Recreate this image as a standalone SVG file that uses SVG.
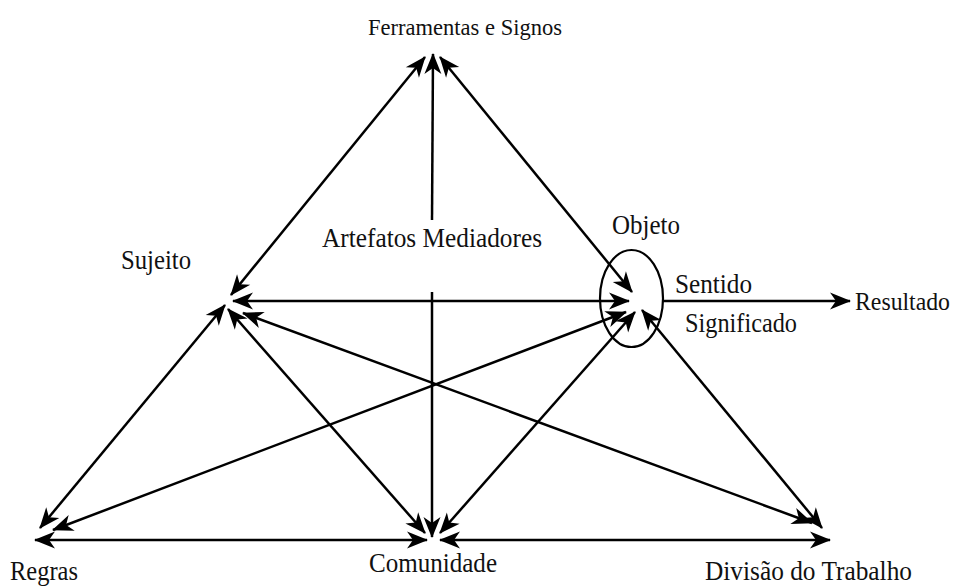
<svg xmlns="http://www.w3.org/2000/svg" width="961" height="586" viewBox="0 0 961 586">
<style>
  text { font-family: "Liberation Serif", "Times New Roman", serif; font-size: 27px; fill: #111; }
</style>
<defs>
  <marker id="a" markerUnits="userSpaceOnUse" markerWidth="40" markerHeight="40" refX="0" refY="0" orient="auto-start-reverse" overflow="visible">
    <path d="M1,0 L-20,-8.5 L-14,0 L-20,8.5 Z" fill="#000"/>
  </marker>
</defs>
<rect width="961" height="586" fill="#fff"/>
<g id="connectors" stroke="#000" stroke-width="2.5" fill="none">
  <line marker-start="url(#a)" marker-end="url(#a)" x1="425" y1="57" x2="231" y2="295"/>
  <line marker-start="url(#a)" x1="433" y1="54" x2="432" y2="220"/>
  <line marker-end="url(#a)" x1="432" y1="292" x2="432" y2="537"/>
  <line marker-start="url(#a)" marker-end="url(#a)" x1="440" y1="57" x2="632" y2="292"/>
  <line marker-start="url(#a)" marker-end="url(#a)" x1="233" y1="301" x2="629" y2="301"/>
  <line marker-start="url(#a)" marker-end="url(#a)" x1="225" y1="305" x2="40" y2="528"/>
  <line marker-start="url(#a)" marker-end="url(#a)" x1="228" y1="309" x2="425" y2="533"/>
  <line marker-start="url(#a)" marker-end="url(#a)" x1="243" y1="313" x2="812" y2="523"/>
  <line marker-start="url(#a)" marker-end="url(#a)" x1="53" y1="530" x2="626" y2="312"/>
  <line marker-start="url(#a)" marker-end="url(#a)" x1="440" y1="533" x2="635" y2="312"/>
  <line marker-start="url(#a)" marker-end="url(#a)" x1="642" y1="310" x2="822" y2="528"/>
  <line marker-start="url(#a)" marker-end="url(#a)" x1="35" y1="540" x2="427" y2="540"/>
  <line marker-start="url(#a)" marker-end="url(#a)" x1="440" y1="540" x2="830" y2="540"/>
  <line marker-end="url(#a)" x1="663" y1="301" x2="850" y2="301"/>
</g>
<g id="ferramentas"><text x="368" y="35" style="font-size:23px" textLength="194" lengthAdjust="spacingAndGlyphs">Ferramentas e Signos</text></g>
<g id="artefatos"><text x="322" y="247" textLength="220" lengthAdjust="spacingAndGlyphs">Artefatos Mediadores</text></g>
<g id="sujeito"><text x="121" y="269" textLength="70" lengthAdjust="spacingAndGlyphs">Sujeito</text></g>
<g id="objeto">
  <text x="612" y="234" textLength="68" lengthAdjust="spacingAndGlyphs">Objeto</text>
  <ellipse cx="631.5" cy="298.5" rx="31.5" ry="48.5" fill="none" stroke="#000" stroke-width="2.2"/>
</g>
<g id="sentido"><text x="675" y="293" textLength="77" lengthAdjust="spacingAndGlyphs">Sentido</text></g>
<g id="significado"><text x="685" y="332" textLength="112" lengthAdjust="spacingAndGlyphs">Significado</text></g>
<g id="resultado"><text x="855" y="310" style="font-size:25px" textLength="95" lengthAdjust="spacingAndGlyphs">Resultado</text></g>
<g id="regras"><text x="10" y="580" textLength="68" lengthAdjust="spacingAndGlyphs">Regras</text></g>
<g id="comunidade"><text x="369" y="572" textLength="128" lengthAdjust="spacingAndGlyphs">Comunidade</text></g>
<g id="divisao"><text x="705" y="580" textLength="207" lengthAdjust="spacingAndGlyphs">Divisão do Trabalho</text></g>
</svg>
